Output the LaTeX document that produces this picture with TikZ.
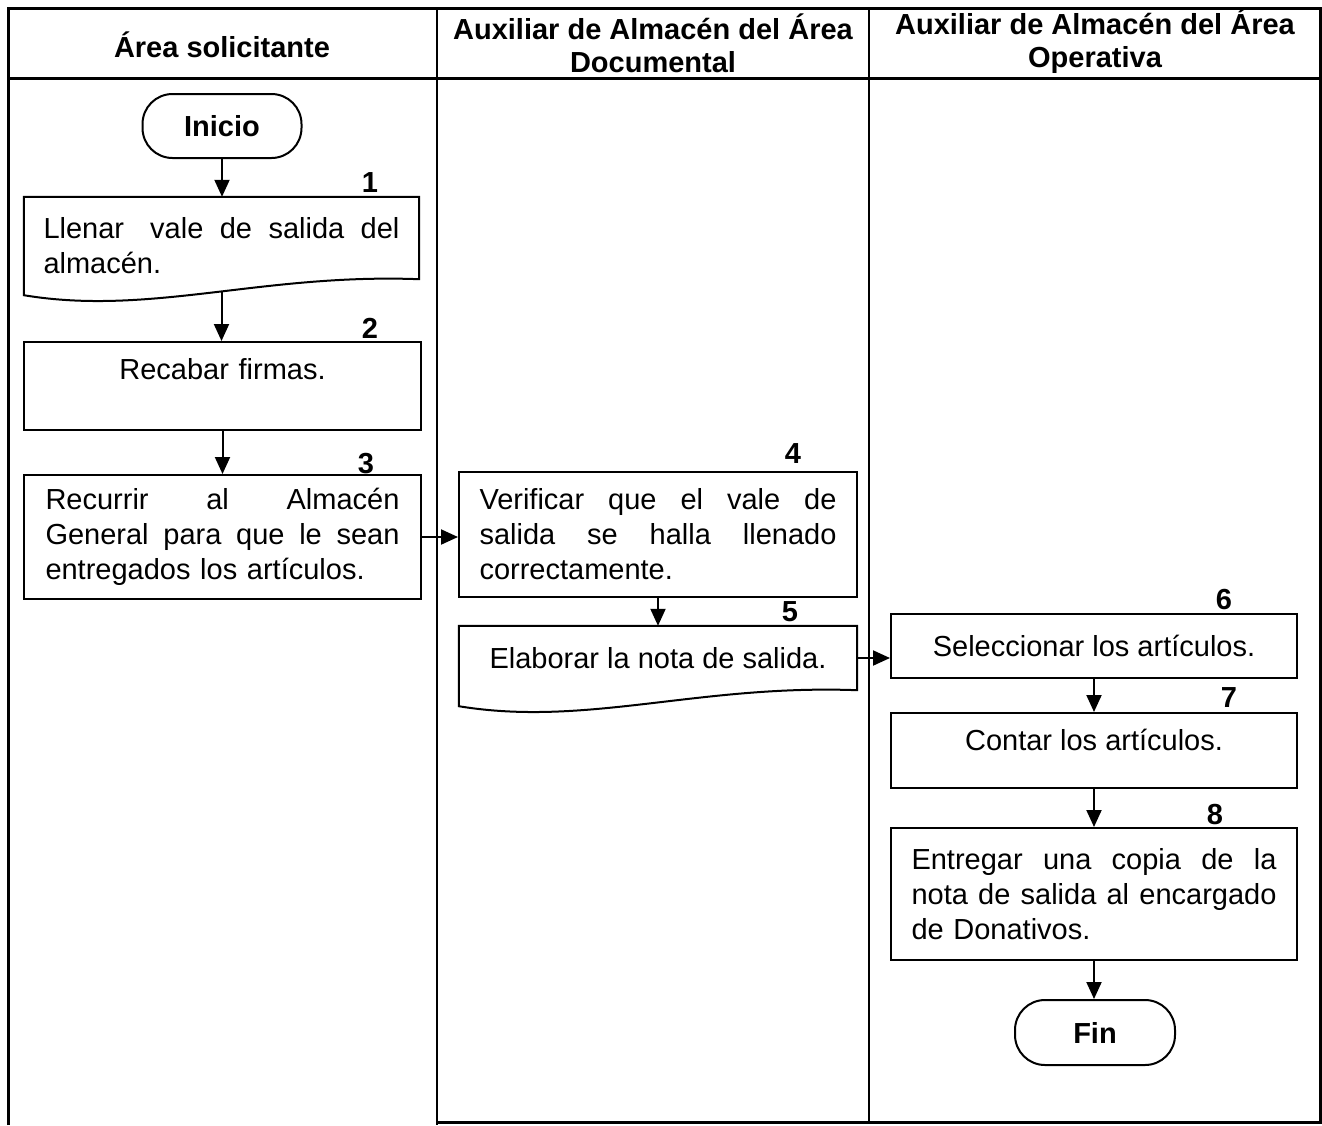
\documentclass[tikz,border=0pt]{standalone}
\usepackage{fontspec}
\setmainfont{Liberation Sans}
\usetikzlibrary{arrows.meta,calc}
% one justified line of a block: #1 is the width, words are parted by \hfill
\newcommand\jline[2]{\leavevmode\hbox to #1{#2}\\}

\begin{document}
\begin{tikzpicture}[x=1pt,y=-1pt,
  every node/.style={font=\fontsize{29}{35}\selectfont},
  frame/.style={line width=3pt},
  lane/.style={line width=2.4pt},
  proc/.style={draw, line width=2pt, inner sep=0pt},
  docnode/.style={inner sep=0pt},
  term/.style={draw, line width=2pt, rounded corners=30pt, inner sep=0pt,
    font=\fontsize{29}{35}\selectfont\bfseries},
  head/.style={align=center, font=\fontsize{29}{33}\selectfont\bfseries},
  num/.style={font=\fontsize{29}{35}\selectfont\bfseries},
  arr/.style={line width=2pt, -{Triangle[length=17pt,width=15pt]}},
  docline/.style={line width=2pt, line join=miter}]

\useasboundingbox (0,0) rectangle (1322,1125);

% lanes and header
\draw[frame] (8,1125) -- (8,8) -- (1320,8) -- (1320,1122) -- (437,1122);
\draw[frame] (8,78) -- (1320,78);
\draw[lane] (437,8) -- (437,1125);
\draw[lane] (869,8) -- (869,1122);

\node[head] (h1) at (222,45) {Área solicitante};
\node[head] (h2) at (653,43) {Auxiliar de Almacén del Área\\Documental};
\node[head] (h3) at (1095,41) {Auxiliar de Almacén del Área\\Operativa};

% lane 1
\node[term, minimum width=159pt, minimum height=64pt] (inicio) at (222,126) {Inicio};

\node[docnode, minimum width=395pt, minimum height=82pt, text width=356pt,
  text height=36pt, align=left]
  (box1) at (221.5,238)
  {\jline{356pt}{Llenar\ \hfill vale\hfill de\hfill salida\hfill del}almacén.};
\draw[docline] (box1.south east) -- (box1.north east) -- (box1.north west)
  -- ($(box1.south west)+(0,16)$)
  .. controls ($(box1.south west)!0.32!(box1.south east)+(0,37)$)
  and ($(box1.south west)!0.6!(box1.south east)+(0,-6)$) .. (box1.south east) -- cycle;
\coordinate (w1) at ($(box1.south)+(0,12)$);

\node[proc, minimum width=397pt, minimum height=88pt, text width=356pt, align=center]
  (box2) at (222.5,386) {Recabar firmas.\\\mbox{}};

\node[proc, minimum width=397pt, minimum height=124pt, text width=354pt, align=left]
  (box3) at (222.5,537)
  {\jline{354pt}{Recurrir\hfill al\hfill Almacén}%
   \jline{354pt}{General\hfill para\hfill que\hfill le\hfill sean}%
   entregados los artículos.};

% lane 2
\node[proc, minimum width=398pt, minimum height=125pt, text width=357pt, align=left]
  (box4) at (658,534.5)
  {\jline{357pt}{Verificar\hfill que\hfill el\hfill vale\hfill de}%
   \jline{357pt}{salida\hfill se\hfill halla\hfill llenado}%
   correctamente.};

\node[docnode, minimum width=398pt, minimum height=64pt, align=center]
  (box5) at (658,658) {Elaborar la nota de salida.};
\draw[docline] (box5.south east) -- (box5.north east) -- (box5.north west)
  -- ($(box5.south west)+(0,16)$)
  .. controls ($(box5.south west)!0.32!(box5.south east)+(0,37)$)
  and ($(box5.south west)!0.6!(box5.south east)+(0,-6)$) .. (box5.south east) -- cycle;

% lane 3
\node[proc, minimum width=406pt, minimum height=64pt, align=center]
  (box6) at (1094,646) {Seleccionar los artículos.};
\node[proc, minimum width=406pt, minimum height=75pt, text depth=22pt, align=center]
  (box7) at (1094,750.5) {Contar los artículos.};
\node[proc, minimum width=406pt, minimum height=132pt, text width=365pt, align=left]
  (box8) at (1094,894)
  {\jline{365pt}{Entregar\hfill una\hfill copia\hfill de\hfill la}%
   \jline{365pt}{nota\hfill de\hfill salida\hfill al\hfill encargado}%
   de Donativos.};
\node[term, minimum width=160pt, minimum height=65pt] (fin) at (1095,1032.5) {Fin};

% step numbers
\node[num] (n1) at (370,183) {1};
\node[num] (n2) at (370,328) {2};
\node[num] (n3) at (366,464) {3};
\node[num] (n4) at (793,454) {4};
\node[num] (n5) at (790,612) {5};
\node[num] (n6) at (1224,600) {6};
\node[num] (n7) at (1229,698) {7};
\node[num] (n8) at (1215,815) {8};

% connectors
\draw[arr] (inicio.south) -- (inicio.south |- box1.north);
\draw[arr] (w1) -- (w1 |- box2.north);
\draw[arr] (box2.south) -- (box2.south |- box3.north);
\draw[arr] (box3.east) -- (box3.east -| box4.west);
\draw[arr] (box4.south) -- (box4.south |- box5.north);
\draw[arr] (box5.east) -- (box5.east -| box6.west);
\draw[arr] (box6.south) -- (box6.south |- box7.north);
\draw[arr] (box7.south) -- (box7.south |- box8.north);
\draw[arr] (box8.south) -- (box8.south |- fin.north);
\end{tikzpicture}
\end{document}
